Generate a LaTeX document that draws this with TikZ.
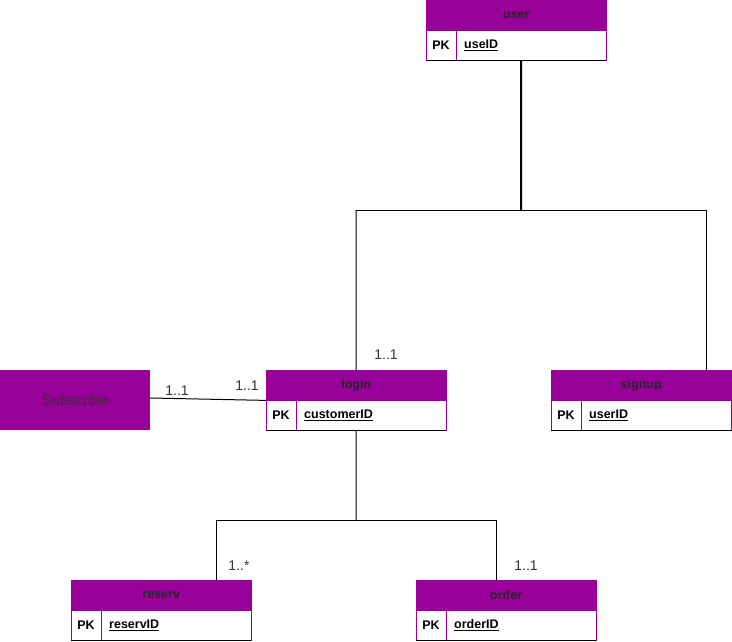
\documentclass[tikz,border=0pt]{standalone}
\usepackage{fontspec}
\setmainfont{Liberation Sans}
\usetikzlibrary{calc}
\definecolor{erpurple}{HTML}{990099}
\definecolor{lblgray}{HTML}{333333}
\tikzset{
  hdr/.style={draw=erpurple, fill=erpurple, minimum width=180pt, minimum height=30pt, inner sep=0pt, anchor=north west, font=\fontsize{12.5}{14}\selectfont\bfseries, text=black!85},
  erow/.style={draw=erpurple, fill=white, minimum width=180pt, minimum height=30pt, inner sep=0pt, anchor=north west},
  pkcell/.style={inner sep=0pt, font=\fontsize{12.5}{14}\selectfont\bfseries},
  attrcell/.style={inner sep=0pt, anchor=west, font=\fontsize{12.5}{14}\selectfont\bfseries},
  subbox/.style={fill=erpurple, minimum width=150pt, minimum height=60pt, inner sep=0pt, font=\fontsize{15}{17}\selectfont, text=black!80},
  mult/.style={inner sep=0pt, font=\fontsize{14}{16}\selectfont, text=lblgray},
  conn/.style={draw=black, line width=1pt}
}
\newcommand\ertable[5]{%
  \node[hdr] (#1) at (#2,#3) {#4};
  \node[erow] (#1-b) at (#2,#3+30) {};
  \draw[erpurple] ($(#1-b.north west)+(30,0)$) -- ($(#1-b.south west)+(30,0)$);
  \draw[black] (#1-b.south west) -- (#1-b.south east);
  \node[pkcell] (#1-pk) at ($(#1-b.west)+(15,0)$) {PK};
  \node[attrcell] (#1-at) at ($(#1-b.west)+(38,0)$) {\underline{#5}};
}
\begin{document}
\begin{tikzpicture}[x=1pt,y=-1pt]
\useasboundingbox (0,0) rectangle (732,642);
\ertable{user}{426}{0}{user}{useID}
\ertable{login}{266}{370}{login}{customerID}
\ertable{signup}{551}{370}{signup}{userID}
\ertable{reserv}{71}{580}{reserv}{reservID}
\ertable{order}{416}{580}{order}{orderID}
\node[subbox] (subscribe) at (75,400) {Subscribe};

% user -> login / signup
\coordinate (j1) at (521,210);
\coordinate (jl) at (356,210);
\coordinate (jr) at (706,210);
\coordinate (usertop) at ($(user-b.south)+(5,0)$);
\coordinate (signuptop) at ($(signup.north west)+(155,0)$);
\draw[line width=2pt] (usertop) -- (j1);
\draw[conn] (jl) -- (jr);
\draw[conn] (jl) -- (login.north);
\draw[conn] (jr) -- (signuptop);

% login -> reserv / order
\coordinate (j2) at (356,520);
\coordinate (j2l) at (216,520);
\coordinate (j2r) at (496,520);
\coordinate (reservtop) at ($(reserv.north west)+(145,0)$);
\coordinate (ordertop) at ($(order.north west)+(80,0)$);
\draw[conn] (login-b.south) -- (j2);
\draw[conn] (j2l) -- (j2r);
\draw[conn] (j2l) -- (reservtop);
\draw[conn] (j2r) -- (ordertop);

% subscribe -> login
\coordinate (subend) at ($(subscribe.east)+(0,-2)$);
\draw[conn] (subend) -- (login.south west);

% multiplicities
\node[mult] (m1) at (386,355) {1..1};
\node[mult] (m2) at (177,391) {1..1};
\node[mult] (m3) at (247,386) {1..1};
\node[mult] (m4) at (239,566) {1..*};
\node[mult] (m5) at (526,566) {1..1};
\end{tikzpicture}
\end{document}
